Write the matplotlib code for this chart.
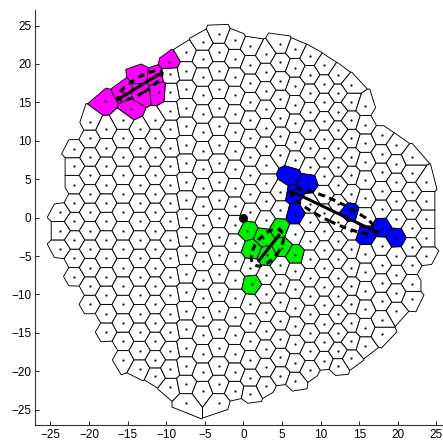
import numpy as np
import matplotlib
matplotlib.use("Agg")
import matplotlib.pyplot as plt
import matplotlib.tri as mtri
from matplotlib.collections import PolyCollection
from matplotlib.patches import Ellipse

# node positions, read column by column (x of column, y of each node)
col_x = [-23.7, -21.9, -19.9, -17.8, -15.6, -13.4, -11.4, -9.5, -7.4, -5.3, -3.2, -1.1,
         0.9, 2.9, 4.8, 6.7, 8.6, 10.5, 12.3, 13.9, 15.8, 17.9, 19.8, 21.8, 23.6]
col_y = [
    [-4.1, -1.7, 0.7],
    [-7.7, -5.3, -2.9, -0.5, 1.9, 4.3, 6.7, 8.9],
    [-11.3, -8.9, -6.5, -4.1, -1.7, 0.7, 3.1, 5.5, 7.9, 10.3, 12.5],
    [-14.9, -12.5, -10.1, -7.7, -5.3, -2.9, -0.5, 1.9, 4.3, 6.7, 9.1, 11.5, 13.9],
    [-18.5, -16.1, -13.7, -11.3, -8.9, -6.5, -4.1, -1.7, 0.7, 3.1, 5.5, 7.9, 10.3, 12.7, 15.1],
    [-19.7, -17.3, -14.9, -12.5, -10.1, -7.7, -5.3, -2.9, -0.5, 1.9, 4.3, 6.7, 9.1, 11.5, 13.9, 16.3, 18.7],
    [-20.6, -18.5, -16.1, -13.7, -11.3, -8.9, -6.5, -4.1, -1.7, 0.7, 3.1, 5.5, 7.9, 10.3, 12.7, 15.1, 17.5],
    [-22.1, -19.7, -17.3, -14.9, -12.5, -10.1, -7.7, -5.3, -2.9, -0.5, 1.9, 4.3, 6.7, 9.1, 11.5, 13.9, 16.3, 18.7],
    [-24.1, -21.7, -19.3, -16.9, -14.5, -12.1, -9.7, -7.3, -4.9, -2.5, -0.1, 2.3, 4.7, 7.1, 9.5, 11.9, 14.3, 16.7, 19.1, 21.5],
    [-22.5, -20.1, -17.7, -15.3, -12.9, -10.5, -8.1, -5.7, -3.3, -0.9, 1.5, 3.9, 6.3, 8.7, 11.1, 13.5, 15.9, 18.3, 20.7, 22.9],
    [-24.1, -21.7, -19.3, -16.9, -14.5, -12.1, -9.7, -7.3, -4.9, -2.5, -0.1, 2.3, 4.7, 7.1, 9.5, 11.9, 14.3, 16.7, 19.1, 21.5, 23.9],
    [-22.5, -20.1, -17.7, -15.3, -12.9, -10.5, -8.1, -5.7, -3.3, -0.9, 1.5, 3.9, 6.3, 8.7, 11.1, 13.5, 15.9, 18.3, 20.7, 23.1],
    [-22.9, -20.9, -18.5, -16.1, -13.7, -11.3, -8.9, -6.5, -4.1, -1.7, 0.7, 3.1, 5.5, 7.9, 10.3, 12.7, 15.1, 17.5, 19.9, 22.3],
    [-21.9, -19.5, -17.1, -14.7, -12.3, -9.9, -7.5, -5.1, -2.7, -0.3, 2.1, 4.5, 6.9, 9.3, 11.7, 14.1, 16.5, 18.9, 21.3],
    [-20.6, -18.2, -15.8, -13.4, -11.0, -8.6, -6.2, -3.8, -1.4, 1.0, 3.4, 5.8, 8.2, 10.6, 13.0, 15.4, 17.8, 20.2, 22.6],
    [-21.3, -18.9, -16.5, -14.1, -11.7, -9.3, -6.9, -4.5, -2.1, 0.3, 2.7, 5.1, 7.5, 9.9, 12.3, 14.7, 17.1, 19.5, 21.9],
    [-19.8, -17.4, -15.0, -12.6, -10.2, -7.8, -5.4, -3.0, -0.6, 1.8, 4.2, 6.6, 9.0, 11.4, 13.8, 16.2, 18.6, 21.0],
    [-18.6, -16.2, -13.8, -11.4, -9.0, -6.6, -4.2, -1.8, 0.6, 3.0, 5.4, 7.8, 10.2, 12.6, 15.0, 17.4, 19.8],
    [-19.3, -17.4, -15.0, -12.6, -10.2, -7.8, -5.4, -3.0, -0.6, 1.8, 4.2, 6.6, 9.0, 11.4, 13.8, 16.2, 18.6],
    [-18.3, -16.1, -13.7, -11.3, -8.9, -6.5, -4.1, -1.7, 0.7, 3.1, 5.5, 7.9, 10.3, 12.7, 15.1, 17.3],
    [-16.7, -14.3, -11.9, -9.5, -7.1, -4.7, -2.3, 0.1, 2.5, 4.9, 7.3, 9.7, 12.1, 14.5],
    [-15.2, -13.3, -10.9, -8.5, -6.1, -3.7, -1.3, 1.1, 3.5, 5.9, 8.3, 10.7],
    [-12.2, -9.8, -7.4, -5.0, -2.6, -0.2, 2.2, 4.6, 7.0, 9.4],
    [-10.6, -8.6, -6.2, -3.8, -1.4, 1.0, 3.4, 5.8, 7.9],
    [-5.0, -2.6, -0.2, 2.2, 4.6],
]

# highlighted cells
magenta_x = [-9.6, -13.3, -11.5, -15.6, -13.3, -10.9, -17.9, -14.6]
magenta_y = [20.2, 18.7, 18.5, 16.4, 16.2, 16.4, 15.2, 14.1]
blue_x = [6.1, 8.3, 6.5, 6.7, 13.6, 15.8, 18.0, 19.7]
blue_y = [5.4, 4.6, 3.1, 0.5, 0.7, -2.3, -1.3, -2.6]
green_x = [0.5, 2.6, 4.6, 1.1, 3.1, 5.0, 6.7, 1.1]
green_y = [-1.7, -2.6, -1.3, -4.1, -4.9, -3.9, -4.9, -8.6]

# segments (solid) and dashed ellipses: center x, center y, width, height, angle
seg_x = [[-15.9, -11.0], [6.5, 16.9], [2.0, 4.6]]
seg_y = [[15.6, 18.6], [3.3, -1.7], [-5.6, -2.3]]
ell = [(-13.4, 17.2, 6.6, 2.0, 31.5), (11.7, 0.8, 12.4, 2.7, -25.7), (3.1, -3.9, 5.6, 3.0, 52)]

c_mag, c_blue, c_green = "#ff00ff", "#0000ff", "#00ee00"

pts = np.array([(x, y) for x, ys in zip(col_x, col_y) for y in ys])
special = np.column_stack([magenta_x + blue_x + green_x, magenta_y + blue_y + green_y])
spec_col = [c_mag] * len(magenta_x) + [c_blue] * len(blue_x) + [c_green] * len(green_x)
d = np.sqrt(((pts[:, None, :] - special[None, :, :]) ** 2).sum(-1)).min(1)
pts = pts[d > 1.4]
seeds = np.vstack([pts, special])
faces = ["white"] * len(pts) + spec_col
n = len(seeds)


def circum(p, tris):
    a, b, c = p[tris[:, 0]], p[tris[:, 1]], p[tris[:, 2]]
    dd = 2 * (a[:, 0] * (b[:, 1] - c[:, 1]) + b[:, 0] * (c[:, 1] - a[:, 1]) + c[:, 0] * (a[:, 1] - b[:, 1]))
    ux = ((a ** 2).sum(1) * (b[:, 1] - c[:, 1]) + (b ** 2).sum(1) * (c[:, 1] - a[:, 1]) + (c ** 2).sum(1) * (a[:, 1] - b[:, 1])) / dd
    uy = ((a ** 2).sum(1) * (c[:, 0] - b[:, 0]) + (b ** 2).sum(1) * (a[:, 0] - c[:, 0]) + (c ** 2).sum(1) * (b[:, 0] - a[:, 0])) / dd
    return np.column_stack([ux, uy])


# guard nodes just outside the boundary so that the outer cells are closed
t = mtri.Triangulation(seeds[:, 0], seeds[:, 1])
cc = circum(seeds, t.triangles)
r = np.sqrt(((cc - seeds[t.triangles[:, 0]]) ** 2).sum(1))
good = t.triangles[r < 2.3]
edges = {}
for tr in good:
    for k in range(3):
        a, b, c = tr[k], tr[(k + 1) % 3], tr[(k + 2) % 3]
        key = (min(a, b), max(a, b))
        edges.setdefault(key, []).append(c)
normals = np.zeros_like(seeds)
for (a, b), cs in edges.items():
    if len(cs) == 1:
        e = seeds[b] - seeds[a]
        nv = np.array([e[1], -e[0]]) / np.hypot(*e)
        if np.dot(nv, seeds[cs[0]] - seeds[a]) > 0:
            nv = -nv
        normals[a] += nv
        normals[b] += nv
nl = np.hypot(normals[:, 0], normals[:, 1])
bnd = nl > 0
guards = seeds[bnd] + 2.4 * normals[bnd] / nl[bnd][:, None]
allp = np.vstack([seeds, guards])
t2 = mtri.Triangulation(allp[:, 0], allp[:, 1])
cc2 = circum(allp, t2.triangles)

polys = []
for i in range(n):
    idx = np.where((t2.triangles == i).any(1))[0]
    v = cc2[idx]
    ang = np.arctan2(v[:, 1] - seeds[i, 1], v[:, 0] - seeds[i, 0])
    polys.append(v[np.argsort(ang)])

fig = plt.figure(figsize=(4.43, 4.41), dpi=100)
ax = fig.add_axes([0.079, 0.036, 0.941, 0.941])
ax.add_collection(PolyCollection(polys, facecolors=faces, edgecolors="black", linewidths=0.65))
ax.plot(seeds[:, 0], seeds[:, 1], ".", color="black", markersize=1.2)
for (xc, yc, w, h, a) in ell:
    ax.add_patch(Ellipse((xc, yc), w, h, angle=a, fill=False, linestyle=(0, (2.2, 1.6)), linewidth=2.2, color="black"))
for sx, sy in zip(seg_x, seg_y):
    ax.plot(sx, sy, "-", color="black", linewidth=2.2)
ax.plot([0], [0], "o", color="black", markersize=5.5)

ax.set_xlim(-27, 27)
ax.set_ylim(-27, 27)
ax.set_xticks(range(-25, 26, 5))
ax.set_yticks(range(-25, 26, 5))
ax.tick_params(direction="in", length=3, labelsize=8.5, width=0.6, pad=2.5)
for s in ["top", "right"]:
    ax.spines[s].set_visible(False)
for s in ["left", "bottom"]:
    ax.spines[s].set_linewidth(0.8)
    ax.spines[s].set_color("#333333")
for lab in ax.get_xticklabels() + ax.get_yticklabels():
    lab.set_fontfamily(["Liberation Sans", "DejaVu Sans"])
fig.savefig("out.png", dpi=100)
